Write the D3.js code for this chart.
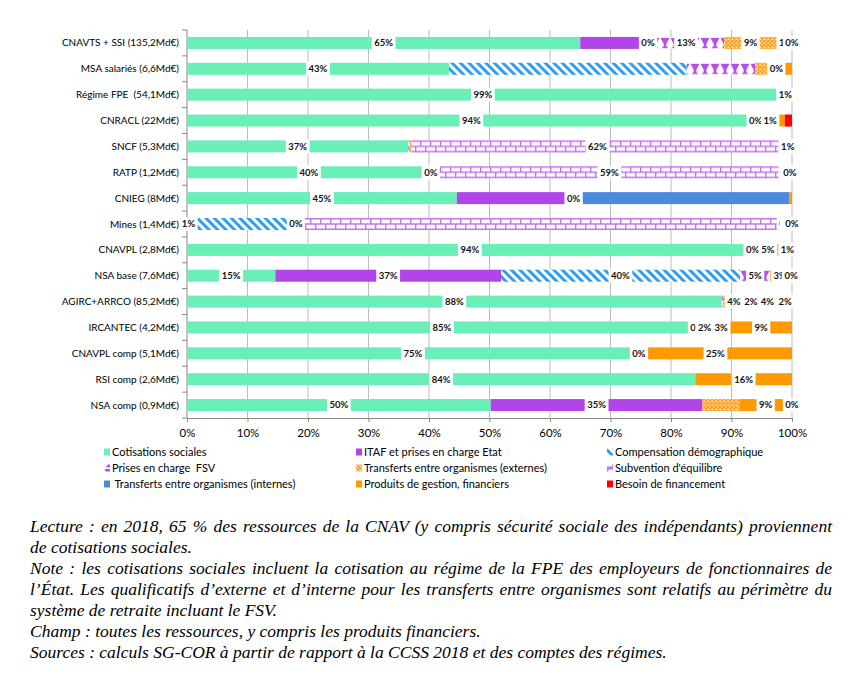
<!DOCTYPE html>
<html>
<head>
<meta charset="utf-8">
<script src="https://cdn.jsdelivr.net/npm/d3@7"></script>
<style>
body { margin: 0; background: #fff; }
text { font-family: Lato, "Liberation Sans", sans-serif; }
.note { font-family: "Liberation Serif", "DejaVu Serif", serif; font-style: italic; font-size: 17.5px; }
</style>
</head>
<body>
<div id="chart"></div>
<script>
var WIDTH = 866;
var HEIGHT = 679;

var categories = ['CNAVTS + SSI (135,2Md€)', 'MSA salariés (6,6Md€)', 'Régime FPE  (54,1Md€)', 'CNRACL (22Md€)',
	'SNCF (5,3Md€)', 'RATP (1,2Md€)', 'CNIEG (8Md€)', 'Mines (1,4Md€)', 'CNAVPL (2,8Md€)', 'NSA base (7,6Md€)',
	'AGIRC+ARRCO (85,2Md€)', 'IRCANTEC (4,2Md€)', 'CNAVPL comp (5,1Md€)', 'RSI comp (2,6Md€)', 'NSA comp (0,9Md€)'];

var seriesNames = ['Cotisations sociales', 'ITAF et prises en charge Etat', 'Compensation démographique',
	'Prises en charge  FSV', 'Transferts entre organismes (externes)', "Subvention d'équilibre",
	' Transferts entre organismes (internes)', 'Produits de gestion, financiers', 'Besoin de financement'];

// shares in %
var cotisations  = [65, 43.3, 97.8, 94, 36.6, 40.3, 44.6, 0.5, 93.5, 14.6, 88.4, 84.3, 74.7, 84, 50.2];
var itaf         = [11.2, 0, 0, 0, 0, 0, 19.3, 0, 0, 37.3, 0, 0, 0, 0, 35];
var compensation = [0, 39.3, 0, 0, 0.2, 0, 0, 17.5, 0, 39.5, 0, 0, 0, 0, 0];
var fsv          = [12.6, 11.3, 0, 0, 0, 0, 0, 0, 0, 5, 0.2, 2.5, 0, 0, 0];
var externes     = [8.7, 3.5, 0, 0, 0.3, 0, 0, 0, 5, 3.3, 3.6, 3, 0, 0, 6.1];
var subvention   = [0, 0, 0, 0, 61.5, 59, 0, 81, 0, 0, 2, 0, 0, 0, 0];
var internes     = [0.4, 0, 0, 0, 0, 0, 35.7, 0, 0, 0, 0, 0, 0, 0, 0];
var produits     = [2.1, 2.6, 2.2, 4.8, 1.4, 0.7, 0.4, 1, 1.5, 0.3, 3.5, 10.2, 25.3, 16, 8.7];
var besoin       = [0, 0, 0, 1.2, 0, 0, 0, 0, 0, 0, 2.3, 0, 0, 0, 0];

// data labels as printed on the chart (null = no label)
var labCotisations  = ['65%', '43%', '99%', '94%', '37%', '40%', '45%', '1%', '94%', '15%', '88%', '85%', '75%', '84%', '50%'];
var labItaf         = [null, null, null, null, null, null, null, null, null, '37%', null, null, null, null, '35%'];
var labCompensation = ['0%', null, null, '0%', null, '0%', '0%', null, '0%', '40%', null, '0%', '0%', null, null];
var labFsv          = ['13%', null, null, null, null, null, null, '0%', null, '5%', null, '2%', null, null, null];
var labExternes     = ['9%', null, null, null, null, null, null, null, '5%', '3%', '4%', '3%', null, null, null];
var labSubvention   = [null, '0%', null, null, '62%', '59%', null, null, null, null, '2%', null, null, null, null];
var labInternes     = [null, null, null, null, null, '0%', null, '0%', null, null, null, null, null, null, null];
var labProduits     = ['1%', null, '1%', '1%', '1%', '0%', null, '1%', '1%', '0%', '4%', '9%', '25%', '16%', '9%'];
var labBesoin       = ['0%', null, null, null, null, null, null, '0%', null, null, '2%', null, null, null, '0%'];

var xTicks = [0, 10, 20, 30, 40, 50, 60, 70, 80, 90, 100];

var notes = [
	['Lecture : en 2018, 65 % des ressources de la CNAV (y compris sécurité sociale des indépendants) proviennent', true],
	['de cotisations sociales.', false],
	['Note : les cotisations sociales incluent la cotisation au régime de la FPE des employeurs de fonctionnaires de', true],
	['l’État. Les qualificatifs d’externe et d’interne pour les transferts entre organismes sont relatifs au périmètre du', true],
	['système de retraite incluant le FSV.', false],
	['Champ : toutes les ressources, y compris les produits financiers.', false],
	['Sources : calculs SG-COR à partir de rapport à la CCSS 2018 et des comptes des régimes.', false]
];

var keys = ['cotisations', 'itaf', 'compensation', 'fsv', 'externes', 'subvention', 'internes', 'produits', 'besoin'];
var values = [cotisations, itaf, compensation, fsv, externes, subvention, internes, produits, besoin];
var labels = [labCotisations, labItaf, labCompensation, labFsv, labExternes, labSubvention, labInternes, labProduits, labBesoin];
var fills = ['#69EFB7', '#B145EA', 'url(#pComp)', 'url(#pFsv)', 'url(#pExt)', 'url(#pSubv)', '#4A8BDC', '#FF9900', '#FF0000'];

var svg = d3.select('#chart').append('svg')
	.attr('width', WIDTH)
	.attr('height', HEIGHT);

var defs = svg.append('defs');

var purple = '#B64EEA';

var pComp = defs.append('pattern').attr('id', 'pComp')
	.attr('patternUnits', 'userSpaceOnUse').attr('width', 6).attr('height', 6)
	.attr('patternTransform', 'rotate(-45)');
pComp.append('rect').attr('width', 6).attr('height', 6).attr('fill', '#fff');
pComp.append('rect').attr('width', 3).attr('height', 6).attr('fill', '#2F9DF0');

var pFsv = defs.append('pattern').attr('id', 'pFsv')
	.attr('patternUnits', 'userSpaceOnUse').attr('width', 10).attr('height', 12);
pFsv.append('rect').attr('width', 10).attr('height', 12).attr('fill', '#fff');
pFsv.append('path').attr('d', 'M0.5,1 L9.5,1 L6.3,7 L6.3,9.3 L8.6,11.2 L1.4,11.2 L3.7,9.3 L3.7,7 Z').attr('fill', purple);

var pExt = defs.append('pattern').attr('id', 'pExt')
	.attr('patternUnits', 'userSpaceOnUse').attr('width', 4).attr('height', 4);
pExt.append('rect').attr('width', 4).attr('height', 4).attr('fill', '#FFF0DA');
pExt.append('path').attr('d', 'M0,0 L4,4 M4,0 L0,4').attr('stroke', '#FF9E1F').attr('stroke-width', 1.5);

var pSubv = defs.append('pattern').attr('id', 'pSubv')
	.attr('patternUnits', 'userSpaceOnUse').attr('width', 10).attr('height', 12);
pSubv.append('rect').attr('width', 10).attr('height', 12).attr('fill', '#fff');
pSubv.append('path')
	.attr('d', 'M0,0.8 H10 M0,6 H10 M0,11.2 H10 M0.7,0 V6 M5.7,6 V12')
	.attr('stroke', '#C472F0').attr('stroke-width', 1.4).attr('fill', 'none');

var x = d3.scaleLinear().domain([0, 100]).range([187, 792]);
var y = d3.scaleBand().domain(categories).range([30, 418]).paddingInner(0.536).paddingOuter(0.268);

// gridlines
svg.append('g').selectAll('line')
	.data(xTicks.slice(1))
	.join('line')
	.attr('x1', function(d) { return x(d); })
	.attr('x2', function(d) { return x(d); })
	.attr('y1', 30).attr('y2', 418)
	.attr('stroke', '#BDBDBD').attr('stroke-width', 1);

// x axis
var xAxis = svg.append('g')
	.attr('transform', 'translate(0,418)')
	.call(d3.axisBottom(x).tickValues(xTicks).tickFormat(function(d) { return d + '%'; })
		.tickSizeInner(4).tickSizeOuter(0).tickPadding(7));
xAxis.selectAll('text').attr('font-size', 11.5).attr('fill', '#000')
	.style('font-family', 'Lato, "Liberation Sans", sans-serif');
xAxis.selectAll('line, path').attr('stroke', '#888');

// y axis line, ticks at category boundaries, labels
var step = y.step();
var yAxis = svg.append('g');
yAxis.append('line').attr('x1', 187).attr('x2', 187).attr('y1', 30).attr('y2', 418).attr('stroke', '#888');
yAxis.selectAll('line.tick')
	.data(d3.range(categories.length + 1))
	.join('line').attr('class', 'tick')
	.attr('x1', 182).attr('x2', 187)
	.attr('y1', function(i) { return 30 + i * step; })
	.attr('y2', function(i) { return 30 + i * step; })
	.attr('stroke', '#888');
yAxis.selectAll('text')
	.data(categories)
	.join('text')
	.attr('x', 179)
	.attr('y', function(d) { return y(d) + y.bandwidth() / 2; })
	.attr('dy', '0.35em')
	.attr('text-anchor', 'end')
	.attr('font-size', 10)
	.style('white-space', 'pre')
	.text(function(d) { return d; });

// stacked bars
var rows = categories.map(function(c, i) {
	var r = { name: c };
	keys.forEach(function(k, j) { r[k] = values[j][i]; });
	return r;
});
var stacked = d3.stack().keys(keys)(rows);
var bw = y.bandwidth();

var rowG = svg.append('g').selectAll('g')
	.data(categories)
	.join('g')
	.attr('transform', function(d) { return 'translate(0,' + y(d) + ')'; });

rowG.each(function(c, i) {
	var g = d3.select(this);
	stacked.forEach(function(layer, j) {
		var seg = layer[i];
		if (seg[1] - seg[0] <= 0) return;
		g.append('rect')
			.attr('x', x(seg[0]))
			.attr('y', 0)
			.attr('width', x(seg[1]) - x(seg[0]))
			.attr('height', bw)
			.attr('fill', fills[j]);
	});
});

// data labels, drawn series after series
stacked.forEach(function(layer, j) {
	categories.forEach(function(c, i) {
		var txt = labels[j][i];
		if (!txt) return;
		var seg = layer[i];
		var cx = x((seg[0] + seg[1]) / 2);
		var g = svg.append('g').attr('transform', 'translate(' + cx + ',' + (y(c) + bw / 2) + ')');
		var box = g.append('rect').attr('fill', '#fff');
		var t = g.append('text')
			.attr('text-anchor', 'middle')
			.attr('dy', '0.36em')
			.attr('font-size', 9.5)
			.attr('font-weight', 'bold')
			.attr('fill', '#111')
			.text(txt);
		var w = t.node().getComputedTextLength() + 5;
		box.attr('x', -w / 2).attr('y', -bw / 2 - 1).attr('width', w).attr('height', bw + 2);
	});
});

// legend
var legendCols = [104, 356, 607];
var legendRows = [452, 468, 484];
var legend = svg.append('g').selectAll('g')
	.data(seriesNames)
	.join('g')
	.attr('transform', function(d, i) { return 'translate(' + legendCols[i % 3] + ',' + legendRows[Math.floor(i / 3)] + ')'; });
legend.append('rect')
	.attr('x', 0).attr('y', -3.5).attr('width', 6).attr('height', 7)
	.attr('fill', function(d, i) { return fills[i]; });
legend.append('text')
	.attr('x', 8)
	.attr('dy', '0.35em')
	.attr('font-size', 11)
	.style('white-space', 'pre')
	.text(function(d) { return d; });

// notes below the chart
var noteG = svg.append('g');
notes.forEach(function(n, i) {
	var t = noteG.append('text')
		.attr('class', 'note')
		.attr('x', 30)
		.attr('y', 532 + i * 21)
		.text(n[0]);
	if (n[1]) {
		var len = t.node().getComputedTextLength();
		var spaces = n[0].split(' ').length - 1;
		t.style('word-spacing', ((802 - len) / spaces) + 'px');
	}
});
</script>
</body>
</html>
